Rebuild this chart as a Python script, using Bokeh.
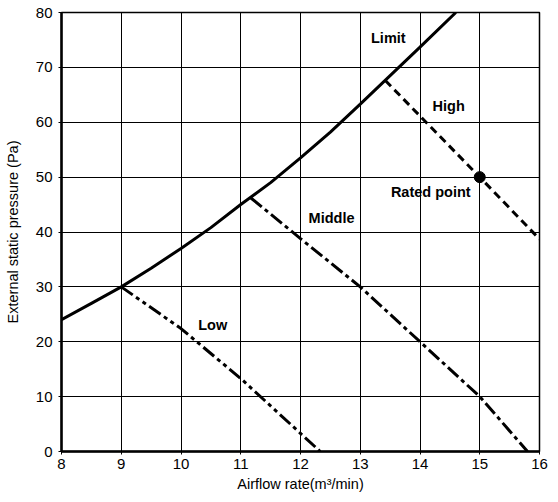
from bokeh.plotting import figure
from bokeh.models import Range1d, FixedTicker
from bokeh.core.properties import value
from bokeh.embed import file_html
from bokeh.resources import INLINE

# Data
limit_x = [8, 8.5, 9, 9.5, 10, 10.5, 11, 11.5, 12, 12.5, 13, 13.5, 14, 14.6]
limit_y = [24, 27, 30, 33.4, 37, 40.8, 45, 49, 53.5, 58.2, 63.3, 68.5, 73.7, 80]

high_x = [13.42, 15, 16]
high_y = [67.6, 50, 38.7]

middle_x = [11.17, 12, 13, 14, 15, 15.8]
middle_y = [46.2, 38.8, 30, 20, 10, 0]

low_x = [9, 10, 11, 12.33]
low_y = [30, 22.4, 13.3, 0]

rated_x = [15]
rated_y = [50]

label_text = ["Limit", "High", "Rated point", "Middle", "Low"]
label_x = [13.47, 14.48, 14.18, 12.52, 10.53]
label_y = [75.3, 62.9, 47.3, 42.5, 23.1]

x_ticks = [8, 9, 10, 11, 12, 13, 14, 15, 16]
y_ticks = [0, 10, 20, 30, 40, 50, 60, 70, 80]

FONT = "Liberation Sans"

p = figure(width=550, height=494, output_backend="svg", toolbar_location=None,
           x_range=Range1d(8, 16), y_range=Range1d(0, 80),
           min_border_left=61, min_border_right=11, min_border_top=12, min_border_bottom=42)

p.background_fill_color = "white"
p.border_fill_color = "white"
p.outline_line_color = "black"
p.outline_line_width = 1.5
p.outline_line_alpha = 1

p.xaxis.ticker = FixedTicker(ticks=x_ticks)
p.yaxis.ticker = FixedTicker(ticks=y_ticks)
p.xgrid.ticker = FixedTicker(ticks=x_ticks)
p.ygrid.ticker = FixedTicker(ticks=y_ticks)
for g in (p.xgrid, p.ygrid):
    g.grid_line_color = "black"
    g.grid_line_width = 1
    g.grid_line_alpha = 1

for ax in (p.xaxis, p.yaxis):
    ax.axis_line_width = 2.5
    ax.axis_line_color = "black"
    ax.major_tick_line_color = "black"
    ax.major_tick_in = 0
    ax.major_tick_out = 3
    ax.minor_tick_line_color = None
    ax.major_label_text_font = FONT
    ax.major_label_text_font_size = "15px"
    ax.major_label_text_color = "black"
    ax.axis_label_text_font = FONT
    ax.axis_label_text_font_size = "14.5px"
    ax.axis_label_text_font_style = "normal"
    ax.axis_label_text_color = "black"

p.xaxis.axis_label = "Airflow rate(m³/min)"
p.yaxis.axis_label = "External static pressure (Pa)"
p.xaxis.major_label_standoff = 4
p.xaxis.axis_label_standoff = 4
p.yaxis.major_label_standoff = 6
p.yaxis.axis_label_standoff = 12

p.line(limit_x, limit_y, line_color="black", line_width=3)
p.line(high_x, high_y, line_color="black", line_width=3, line_dash="8 5")
p.line(middle_x, middle_y, line_color="black", line_width=3, line_dash="14 4 4 4")
p.line(low_x, low_y, line_color="black", line_width=3, line_dash="14 4 4 4 4 4")
p.scatter(rated_x, rated_y, size=11, fill_color="black", line_color="black")

p.text(label_x, label_y, text=label_text, text_font=value(FONT),
       text_font_size="14.5px", text_font_style="bold", text_color="black",
       text_align="center", text_baseline="middle")

open("out.html", "w").write(file_html(p, INLINE))
